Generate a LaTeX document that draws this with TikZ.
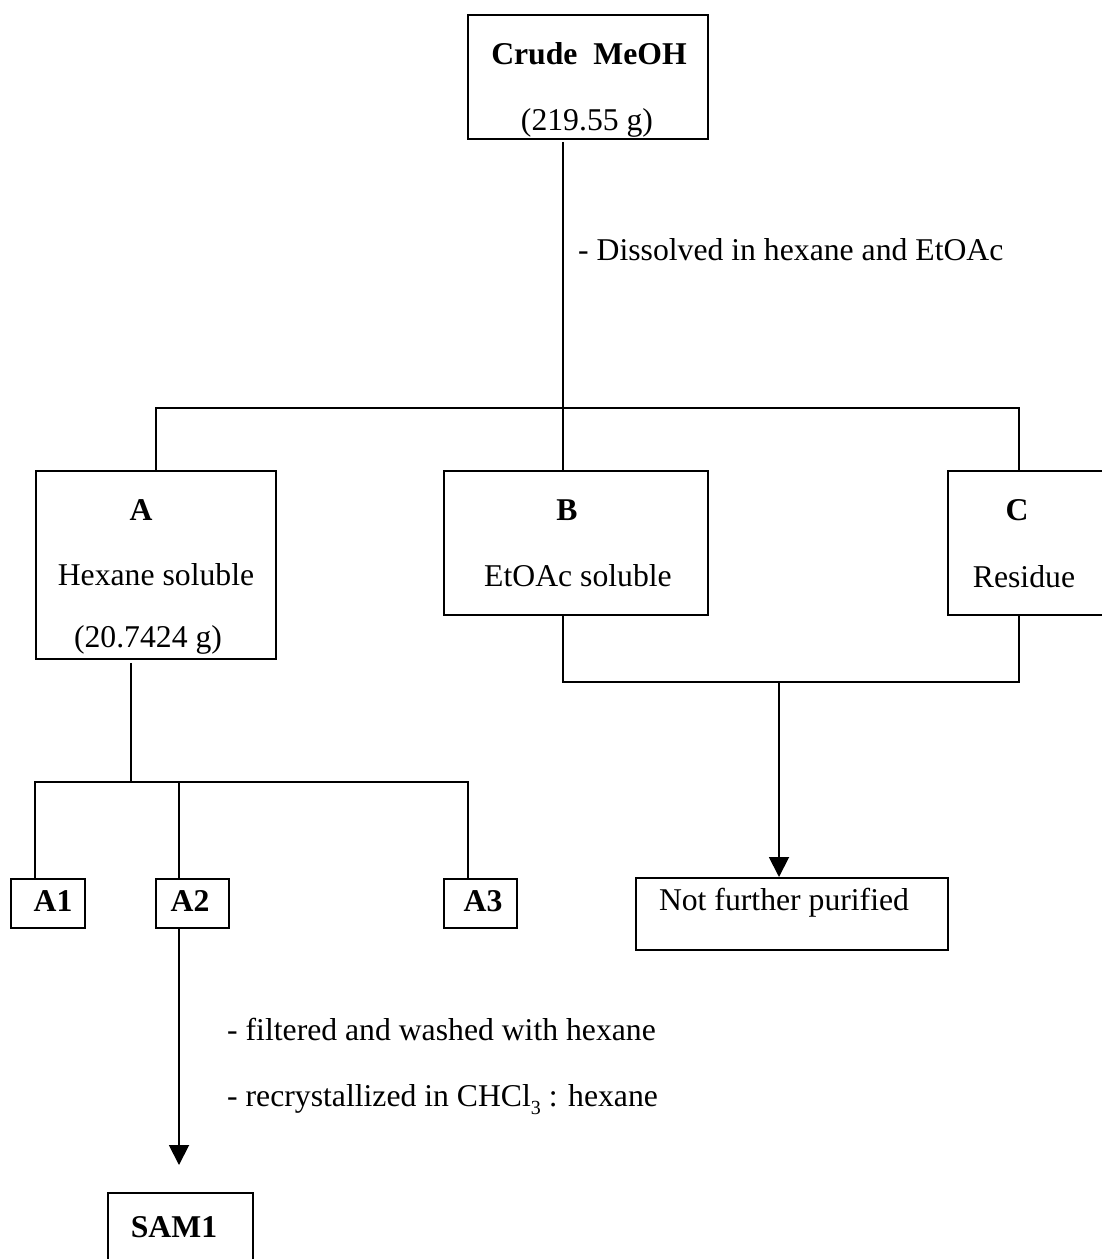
\documentclass[tikz,border=0pt]{standalone}
\usepackage{fontspec}
\setmainfont{Liberation Serif}
\usetikzlibrary{arrows.meta}
\newcommand{\lowsub}[1]{\raisebox{-8pt}{\fontsize{20}{20}\selectfont #1}}
\begin{document}
\begin{tikzpicture}[x=1pt,y=-1pt,
  font=\fontsize{31.7}{38}\selectfont,
  box/.style={draw, line width=1.9pt, inner sep=0pt, anchor=north west},
  lbl/.style={anchor=base, inner sep=0pt},
  note/.style={anchor=base west, inner sep=0pt},
  conn/.style={line width=1.9pt},
  flow/.style={line width=1.9pt, -{Triangle[width=20pt,length=20pt]}}]
\useasboundingbox (0,0) rectangle (1102,1259);
\clip (0,0) rectangle (1102,1259);

% boxes
\node[box, minimum width=240pt, minimum height=124pt] (crude) at (467,14) {};
\node[box, minimum width=240pt, minimum height=188pt] (A) at (35,470) {};
\node[box, minimum width=264pt, minimum height=144pt] (B) at (443,470) {};
\node[box, minimum width=170pt, minimum height=144pt] (C) at (947,470) {};
\node[box, minimum width=74pt, minimum height=49pt] (A1) at (10,878) {};
\node[box, minimum width=73pt, minimum height=49pt] (A2) at (155,878) {};
\node[box, minimum width=73pt, minimum height=49pt] (A3) at (443,878) {};
\node[box, minimum width=312pt, minimum height=72pt] (nfp) at (635,877) {};
\node[box, minimum width=145pt, minimum height=100pt] (sam) at (107,1192) {};

% labels
\node[lbl] (crudeT) at (589,64) {\textbf{Crude~~MeOH}};
\node[lbl] (crudeM) at (587,130) {(219.55 g)};
\node[lbl] (AT) at (141,520) {\textbf{A}};
\node[lbl] (AD) at (156,585) {Hexane soluble};
\node[lbl] (AM) at (148,647) {(20.7424 g)};
\node[lbl] (BT) at (567,520) {\textbf{B}};
\node[lbl] (BD) at (578,586) {EtOAc soluble};
\node[lbl] (CT) at (1017,520) {\textbf{C}};
\node[lbl] (CD) at (1024,587) {Residue};
\node[lbl] (A1T) at (53,911) {\textbf{A1}};
\node[lbl] (A2T) at (190,911) {\textbf{A2}};
\node[lbl] (A3T) at (483,911) {\textbf{A3}};
\node[lbl] (nfpT) at (784,910) {Not further purified};
\node[lbl] (samT) at (174,1237) {\textbf{SAM1}};

% procedure notes
\node[note] (step1) at (578,260) {- Dissolved in hexane and EtOAc};
\node[note] (step2) at (227,1040) {- filtered and washed with hexane};
\node[note] (step3) at (227,1106) {- recrystallized in CHCl\lowsub{3} : hexane};

% branch points
\coordinate (trunk) at (563,408);
\coordinate (cx) at (1019,408);
\coordinate (asplit) at (131,782);
\coordinate (a1x) at (35,782);
\coordinate (a2x) at (179,782);
\coordinate (a3x) at (468,782);
\coordinate (mx) at (779,682);

% first partition
\draw[conn, shorten <=2pt] (trunk |- crude.south) -- (trunk |- B.north);
\draw[conn] (A.north) |- (cx) -- (cx |- C.north);

% fractions of A
\draw[conn, shorten <=3pt] (asplit |- A.south) -- (asplit);
\draw[conn] (a1x |- A1.north) -- (a1x) -- (a3x) -- (a3x |- A3.north);
\draw[conn] (a2x) -- (a2x |- A2.north);
\draw[flow, shorten >=27pt] (a2x |- A2.south) -- (a2x |- sam.north);

% B and C combined
\draw[conn] (trunk |- B.south) -- (trunk |- mx) -- (cx |- mx) -- (cx |- C.south);
\draw[flow] (mx) -- (mx |- nfp.north);
\end{tikzpicture}
\end{document}
